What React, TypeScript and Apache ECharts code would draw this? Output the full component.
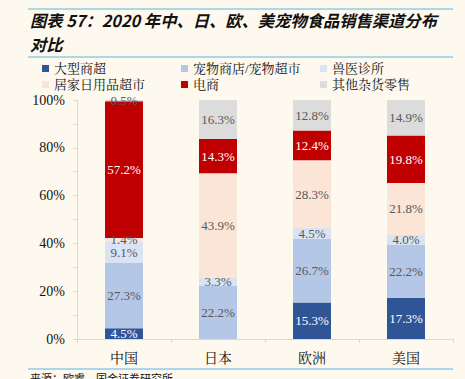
import React, { useEffect, useRef } from "react";
import * as echarts from "echarts";

const categories = ["中国", "日本", "欧洲", "美国"];
const seriesNames = ["大型商超", "宠物商店/宠物超市", "兽医诊所", "居家日用品超市", "电商", "其他杂货零售"];
const bigSupermarket = [4.5, 0, 15.3, 17.3];
const petStore = [27.3, 22.2, 26.7, 22.2];
const vetClinic = [9.1, 3.3, 4.5, 4.0];
const homeSupermarket = [1.4, 43.9, 28.3, 21.8];
const ecommerce = [57.2, 14.3, 12.4, 19.8];
const otherRetail = [0.5, 16.3, 12.8, 14.9];
const seriesValues = [bigSupermarket, petStore, vetClinic, homeSupermarket, ecommerce, otherRetail];
const colors = ["#2F5597", "#B4C7E7", "#DAE3F3", "#FBE5D6", "#C00000", "#DCDCDC"];
const labelColors = ["#FFFFFF", "#595959", "#595959", "#595959", "#FFFFFF", "#595959"];
const yTicks = [0, 20, 40, 60, 80, 100];

const serif = "'Liberation Serif', 'Times New Roman', 'Noto Serif CJK SC', 'Noto Sans CJK SC', serif";
const legendPos = [
  [42, 62], [181, 62], [320, 62],
  [42, 78], [181, 78], [320, 78],
];

export default function App() {
  const ref = useRef<HTMLDivElement>(null);
  useEffect(() => {
    const chart = echarts.init(ref.current!, null, { renderer: "svg" });
    const option: any = {
      animation: false,
      backgroundColor: "#FEF9EF",
      grid: { left: 77, right: 12, top: 100, bottom: 40, containLabel: false },
      legend: seriesNames.map((n, i) => ({
        data: [n],
        left: legendPos[i][0],
        top: legendPos[i][1],
        padding: 0,
        itemWidth: 7,
        itemHeight: 7,
        itemGap: 0,
        icon: "rect",
        textStyle: { fontFamily: serif, fontSize: 13, color: "#111" },
      })),
      xAxis: {
        type: "category",
        data: categories,
        axisLine: { lineStyle: { color: "#D9D9D9" } },
        axisTick: { show: true, length: 4, lineStyle: { color: "#D9D9D9" } },
        axisLabel: { fontFamily: serif, fontSize: 14, color: "#111", margin: 12 },
      },
      yAxis: {
        type: "value",
        min: 0,
        max: 100,
        interval: 10,
        splitLine: { show: false },
        axisLine: { show: true, lineStyle: { color: "#D9D9D9" } },
        axisTick: { show: true, length: 4, lineStyle: { color: "#D9D9D9" } },
        axisLabel: {
          fontFamily: serif,
          fontSize: 14,
          color: "#111",
          margin: 12,
          formatter: (v: number) => (yTicks.includes(v) ? v + "%" : ""),
        },
      },
      graphic: [
        { type: "line", shape: { x1: 28, y1: 9, x2: 453, y2: 9 }, style: { stroke: "#5BB4E3", lineWidth: 1.2 } },
        { type: "line", shape: { x1: 28, y1: 57, x2: 453, y2: 57 }, style: { stroke: "#5BB4E3", lineWidth: 1.2 } },
        { type: "line", shape: { x1: 28, y1: 369, x2: 453, y2: 369 }, style: { stroke: "#5BB4E3", lineWidth: 1.2 } },
        {
          type: "text",
          left: 30,
          top: 12,
          style: {
            text: "图表 57：2020 年中、日、欧、美宠物食品销售渠道分布",
            font: "italic bold 16.3px 'Noto Sans CJK SC', sans-serif",
            fill: "#111",
          },
        },
        {
          type: "text",
          left: 30,
          top: 36,
          style: {
            text: "对比",
            font: "italic bold 16.3px 'Noto Sans CJK SC', sans-serif",
            fill: "#111",
          },
        },
        {
          type: "text",
          left: 30,
          top: 372,
          style: {
            text: "来源：欧睿，国金证券研究所",
            font: "11px 'Noto Sans CJK SC', sans-serif",
            fill: "#111",
          },
        },
      ],
      series: seriesNames.map((n, i) => ({
        name: n,
        type: "bar",
        stack: "total",
        barWidth: 38,
        data: seriesValues[i],
        itemStyle: { color: colors[i] },
        label: {
          show: true,
          position: "inside",
          fontFamily: serif,
          fontSize: 13,
          color: labelColors[i],
          formatter: (p: any) => (p.value > 0 ? p.value.toFixed(1) + "%" : ""),
        },
      })),
    };
    chart.setOption(option);
    return () => chart.dispose();
  }, []);
  return <div ref={ref} style={{ width: 465, height: 379, position: "absolute", left: 0, top: 0 }} />;
}
